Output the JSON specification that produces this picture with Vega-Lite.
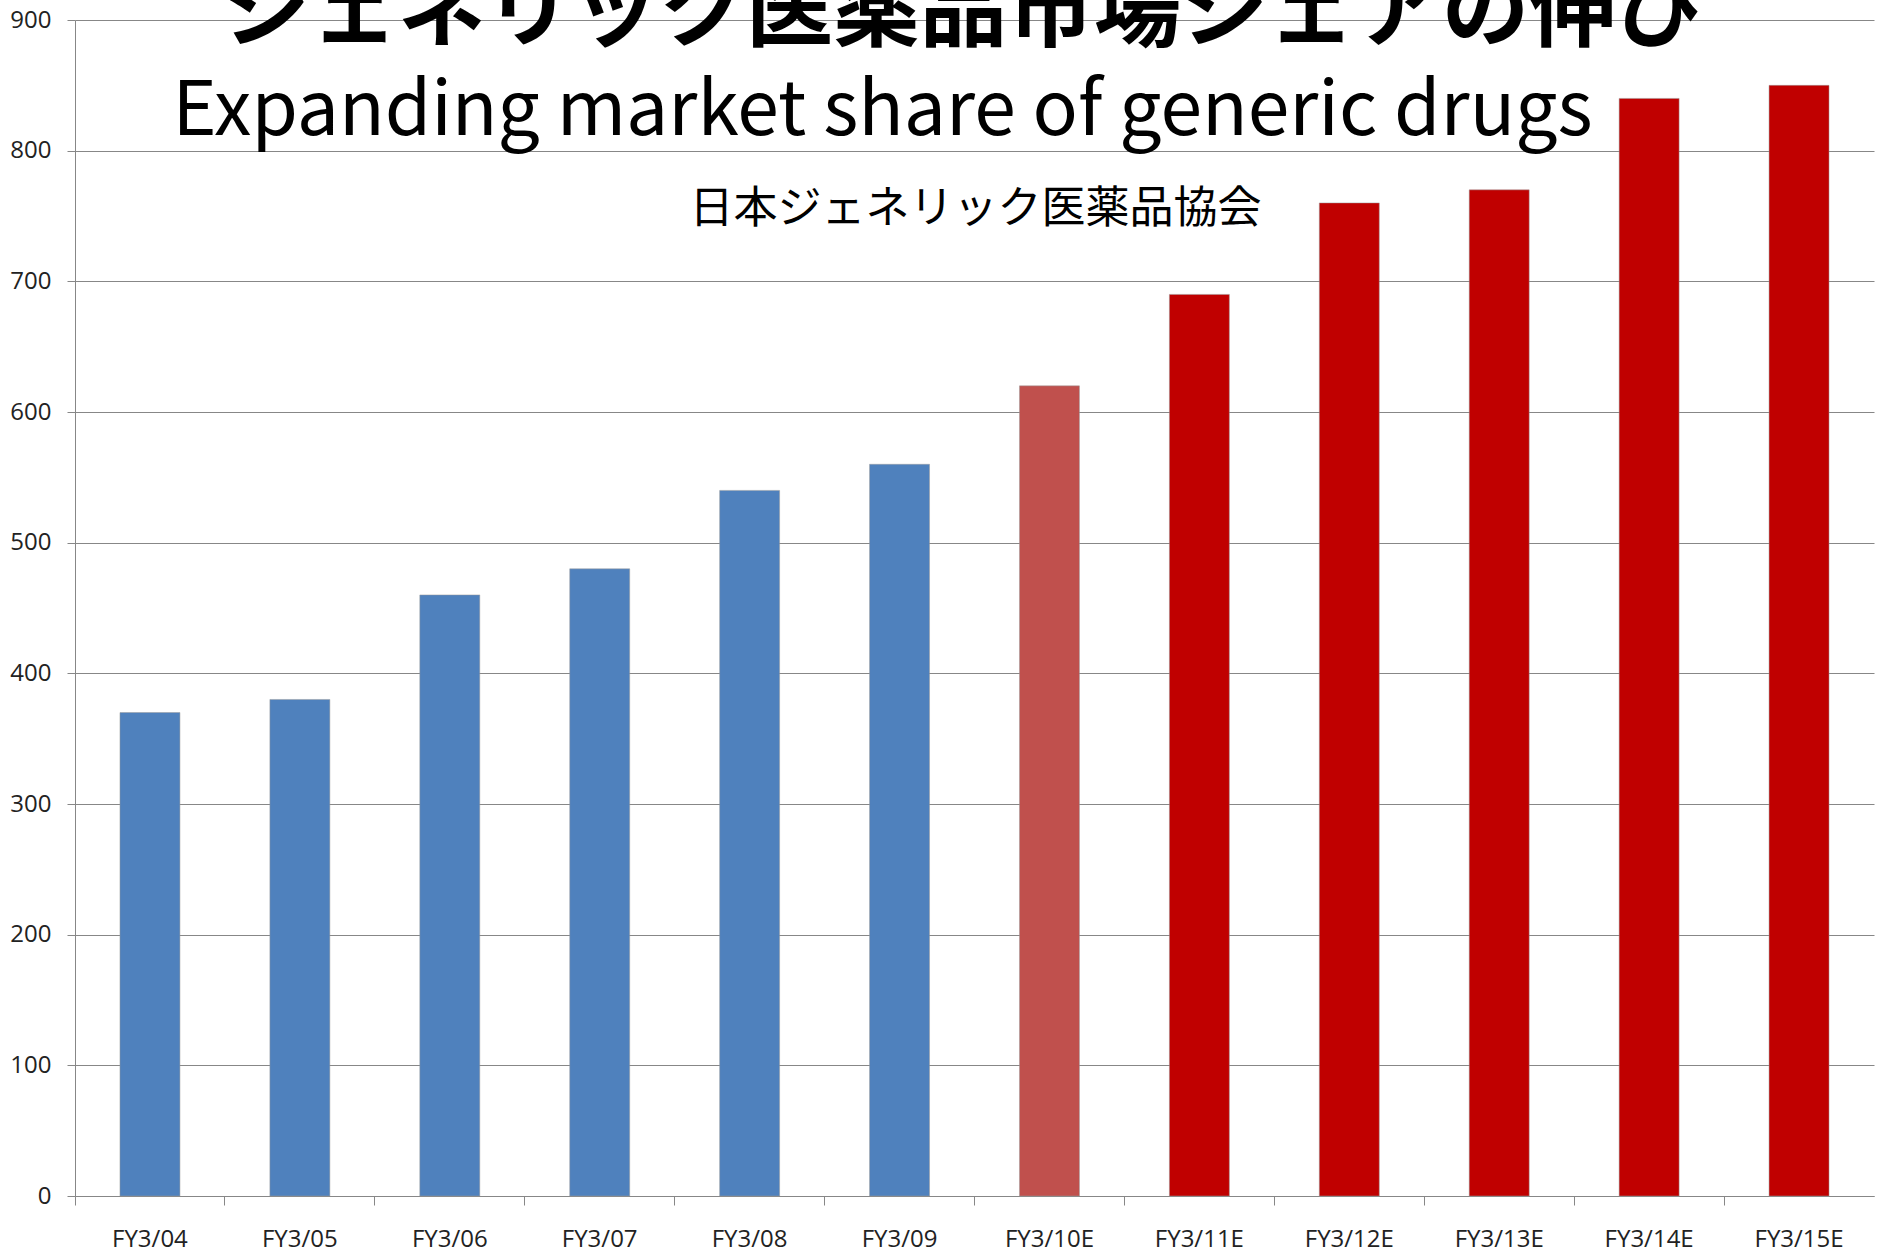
{
  "$schema": "https://vega.github.io/schema/vega-lite/v6.json",
  "autosize": "none",
  "width": 1799,
  "height": 1176,
  "padding": {"left": 75, "top": 20, "right": 9, "bottom": 64},
  "background": "white",
  "config": {"view": {"stroke": null}},
  "datasets": {
    "bars": [
      {"fy": "FY3/04", "value": 370, "kind": "actual"},
      {"fy": "FY3/05", "value": 380, "kind": "actual"},
      {"fy": "FY3/06", "value": 460, "kind": "actual"},
      {"fy": "FY3/07", "value": 480, "kind": "actual"},
      {"fy": "FY3/08", "value": 540, "kind": "actual"},
      {"fy": "FY3/09", "value": 560, "kind": "actual"},
      {"fy": "FY3/10E", "value": 620, "kind": "estimate"},
      {"fy": "FY3/11E", "value": 690, "kind": "forecast"},
      {"fy": "FY3/12E", "value": 760, "kind": "forecast"},
      {"fy": "FY3/13E", "value": 770, "kind": "forecast"},
      {"fy": "FY3/14E", "value": 840, "kind": "forecast"},
      {"fy": "FY3/15E", "value": 850, "kind": "forecast"}
    ],
    "title": [{"text": "ジェネリック医薬品市場シェアの伸び"}],
    "subtitle": [{"text": "Expanding market share of generic drugs"}],
    "source": [{"text": "日本ジェネリック医薬品協会"}]
  },
  "layer": [
    {
      "data": {"name": "bars"},
      "mark": {"type": "bar", "width": {"band": 0.4}, "stroke": "#9a9a9a", "strokeWidth": 0.5},
      "encoding": {
        "x": {
          "field": "fy", "type": "nominal", "sort": null,
          "scale": {"paddingInner": 0, "paddingOuter": 0},
          "axis": {
            "title": null, "labelAngle": 0, "bandPosition": 0,
            "domainColor": "#878787", "tickColor": "#878787", "tickSize": 9,
            "labelFont": "Open Sans", "labelFontSize": 24, "labelColor": "#222222",
            "labelBaseline": "alphabetic", "labelPadding": 41
          }
        },
        "y": {
          "field": "value", "type": "quantitative",
          "scale": {"domain": [0, 900], "nice": false},
          "axis": {
            "title": null, "values": [0, 100, 200, 300, 400, 500, 600, 700, 800, 900],
            "domainColor": "#878787", "tickColor": "#878787", "tickSize": 8,
            "gridColor": "#878787", "gridWidth": 1, "grid": true,
            "labelFont": "Open Sans", "labelFontSize": 24, "labelColor": "#222222",
            "labelPadding": 16
          }
        },
        "color": {
          "field": "kind", "type": "nominal", "legend": null,
          "scale": {"domain": ["actual", "estimate", "forecast"], "range": ["#4F81BD", "#C0504D", "#C00000"]}
        }
      }
    },
    {
      "data": {"name": "title"},
      "mark": {"type": "text", "font": "Noto Sans CJK JP", "fontWeight": "bold", "fontSize": 87, "align": "center", "baseline": "alphabetic", "dx": -11, "color": "#000000"},
      "encoding": {
        "x": {"datum": "FY3/10E", "bandPosition": 0},
        "y": {"datum": 885},
        "text": {"field": "text"}
      }
    },
    {
      "data": {"name": "subtitle"},
      "mark": {"type": "text", "font": "Noto Sans CJK JP", "fontSize": 75, "align": "center", "baseline": "alphabetic", "dx": -92, "color": "#000000"},
      "encoding": {
        "x": {"datum": "FY3/10E", "bandPosition": 0},
        "y": {"datum": 812},
        "text": {"field": "text"}
      }
    },
    {
      "data": {"name": "source"},
      "mark": {"type": "text", "font": "Noto Sans CJK JP", "fontSize": 44, "align": "center", "baseline": "alphabetic", "dx": 1, "color": "#000000"},
      "encoding": {
        "x": {"datum": "FY3/10E", "bandPosition": 0},
        "y": {"datum": 745},
        "text": {"field": "text"}
      }
    }
  ]
}
